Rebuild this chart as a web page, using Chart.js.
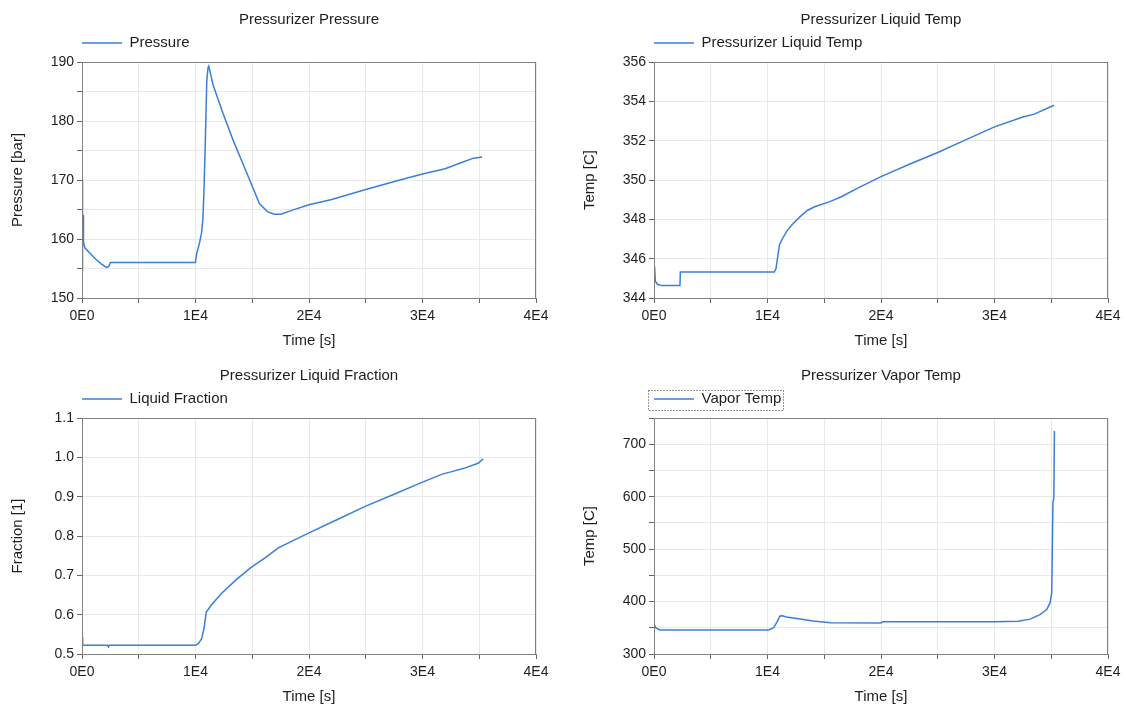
<!DOCTYPE html>
<html>
<head>
<meta charset="utf-8">
<script src="https://cdn.jsdelivr.net/npm/chart.js@4.4.0/dist/chart.umd.min.js"></script>
<style>
html,body{margin:0;padding:0;background:#fff;}
body{width:1126px;height:704px;position:relative;overflow:hidden;}
canvas{position:absolute;}
</style>
</head>
<body>
<canvas id="c1" width="563" height="352" style="left:0;top:0"></canvas>
<canvas id="c2" width="554" height="352" style="left:572px;top:0"></canvas>
<canvas id="c3" width="563" height="350" style="left:0;top:356px"></canvas>
<canvas id="c4" width="554" height="350" style="left:572px;top:356px"></canvas>
<script>
// x tick labels (every 1E4 s)
const xTickLabels = ['0E0','1E4','2E4','3E4','4E4'];

// Pressurizer pressure [bar]
const pressureTime = [0,30,60,90,130,250,700,1200,1700,2150,2350,2500,10000,10100,10350,10530,10650,10740,10870,10990,11100,11170,11550,12420,13300,14170,14900,15630,16360,16940,17520,18540,20000,22000,25000,28000,30000,32000,33500,34500,35250];
const pressureBar  = [170,154.5,164.2,164,159.5,158.5,157.6,156.6,155.8,155.2,155.3,156,156,157.5,159.3,161,163.3,167.8,176.8,186.7,189,189.3,186.1,181.3,176.8,172.8,169.4,166,164.6,164.2,164.2,164.9,165.8,166.7,168.4,170,171,171.9,173,173.7,173.9];

// Pressurizer liquid temp [C]
const liquidTime  = [0,60,120,300,700,2290,2320,10600,10750,10900,11050,11300,11700,12200,12800,13500,14200,15500,16500,18000,20000,22500,25000,27500,30000,32500,33500,35250];
const liquidTempC = [345.6,345.5,344.85,344.7,344.63,344.63,345.32,345.32,345.5,346.1,346.7,347.0,347.4,347.75,348.1,348.45,348.65,348.9,349.15,349.6,350.17,350.8,351.4,352.05,352.7,353.2,353.35,353.8];

// Pressurizer liquid fraction [1]
const fractionTime = [0,30,80,2250,2330,2400,10000,10260,10530,10760,10940,11380,12330,13590,14840,16100,17300,18500,20000,22500,25000,27500,30000,31800,32500,33650,34900,35350];
const fractionVal  = [0.543,0.528,0.522,0.522,0.518,0.522,0.522,0.527,0.538,0.566,0.606,0.624,0.655,0.689,0.719,0.744,0.770,0.787,0.808,0.842,0.876,0.906,0.937,0.958,0.963,0.972,0.985,0.996];

// Pressurizer vapor temp [C]
const vaporTime  = [0,150,500,10100,10550,10850,11100,11320,11640,12740,14000,15570,20000,20150,30000,32100,33130,34010,34600,34890,35040,35150,35230,35280];
const vaporTempC = [357,350,346,346,350,361.7,372.5,373,370.5,367.4,363,359.8,359.1,361.7,361.7,362.5,366.5,375,384.6,397.4,416,590,596,725];

const LINE = '#3a7fd7';
const TEXT = '#1e1e1e';
const GRID = '#e9e9e9';
const TICK = '#666666';
const BORDER = '#808080';

Chart.defaults.font.family = '"Liberation Sans", Arial, sans-serif';

// box around the whole plot area (top/right sides too)
const frame = {
  id:'frame',
  afterDatasetsDraw(chart){
    const {ctx, chartArea:a} = chart;
    ctx.save();
    ctx.strokeStyle = BORDER;
    ctx.lineWidth = 1;
    ctx.strokeRect(Math.round(a.left)+0.5, Math.round(a.top)+0.5, Math.round(a.right-a.left)-1, Math.round(a.bottom-a.top));
    ctx.restore();
  }
};

// a bit more room between legend and plot
const legendGap = {
  id:'legendGap',
  beforeInit(chart){
    if(!chart.legend) return;
    const fit = chart.legend.fit;
    chart.legend.fit = function(){ fit.call(this); this.height += 1.5; };
  }
};

// dotted focus rectangle on the vapor temp legend
const focusBox = {
  id:'focusBox',
  afterDraw(chart){
    const h = chart.legend && chart.legend.legendHitBoxes[0];
    if(!h) return;
    const ctx = chart.ctx;
    ctx.save();
    ctx.strokeStyle = '#333';
    ctx.lineWidth = 1;
    ctx.setLineDash([1,2]);
    ctx.strokeRect(Math.round(h.left-6)+0.5, Math.round(h.top-2)+0.5, Math.round(h.width+8), Math.round(h.height+5));
    ctx.restore();
  }
};

function makeChart(id, cfg){
  const pts = cfg.t.map((t,i)=>({x:t, y:cfg.v[i]}));
  return new Chart(document.getElementById(id), {
    type:'line',
    data:{datasets:[{
      label:cfg.label, data:pts,
      borderColor:LINE, backgroundColor:LINE,
      borderWidth:1.5, pointRadius:0, tension:0
    }]},
    options:{
      responsive:false,
      animation:false,
      layout:{padding:{left:0,right:cfg.padRight,top:0,bottom:cfg.padBottom}},
      plugins:{
        title:{display:true,text:cfg.title,fullSize:false,color:TEXT,font:{size:15,weight:'normal'},padding:{top:10.5,bottom:7}},
        legend:{display:true,position:'top',align:'start',fullSize:false,
          labels:{usePointStyle:true,pointStyle:'line',pointStyleWidth:40,padding:0,color:TEXT,font:{size:15}}},
        tooltip:{enabled:false}
      },
      scales:{
        x:{
          type:'linear', min:0, max:40000,
          afterFit:s=>{ s.height = 52; },
          ticks:{stepSize:5000,autoSkip:false,maxRotation:0,padding:5,color:TEXT,font:{size:14},
            callback:v=> v % 10000 === 0 ? xTickLabels[v/10000] : ''},
          grid:{color:GRID,tickColor:TICK,tickLength:5},
          border:{color:BORDER},
          title:{display:true,text:'Time [s]',color:TEXT,font:{size:15},padding:{top:0,bottom:0}}
        },
        y:{
          type:'linear', min:cfg.yMin, max:cfg.yMax,
          afterFit:s=>{ s.width = 82; },
          ticks:{stepSize:cfg.yStep,autoSkip:false,padding:3,color:TEXT,font:{size:14},callback:cfg.yLabel},
          grid:{color:GRID,tickColor:TICK,tickLength:5},
          border:{color:BORDER},
          title:{display:true,text:cfg.yTitle,color:TEXT,font:{size:15},padding:{top:9,bottom:0}}
        }
      }
    },
    plugins:[frame, legendGap].concat(cfg.extra || [])
  });
}

makeChart('c1', {
  title:'Pressurizer Pressure', label:'Pressure', yTitle:'Pressure [bar]',
  t:pressureTime, v:pressureBar, yMin:150, yMax:190, yStep:5,
  yLabel:v=> Math.round(v) % 10 === 0 ? String(Math.round(v)) : '',
  padRight:27, padBottom:2
});

makeChart('c2', {
  title:'Pressurizer Liquid Temp', label:'Pressurizer Liquid Temp', yTitle:'Temp [C]',
  t:liquidTime, v:liquidTempC, yMin:344, yMax:356, yStep:2,
  yLabel:v=> String(Math.round(v)),
  padRight:18, padBottom:2
});

makeChart('c3', {
  title:'Pressurizer Liquid Fraction', label:'Liquid Fraction', yTitle:'Fraction [1]',
  t:fractionTime, v:fractionVal, yMin:0.5, yMax:1.1, yStep:0.1,
  yLabel:v=> v.toFixed(1),
  padRight:27, padBottom:0
});

makeChart('c4', {
  title:'Pressurizer Vapor Temp', label:'Vapor Temp', yTitle:'Temp [C]',
  t:vaporTime, v:vaporTempC, yMin:300, yMax:750, yStep:50,
  yLabel:v=> Math.round(v) % 100 === 0 ? String(Math.round(v)) : '',
  padRight:18, padBottom:0, extra:[focusBox]
});
</script>
</body>
</html>
